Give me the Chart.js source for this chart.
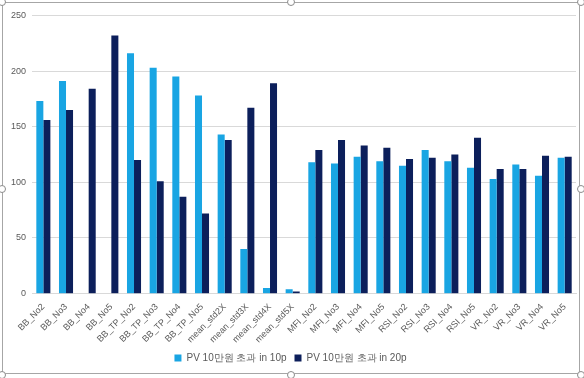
<!DOCTYPE html>
<html>
<head>
<meta charset="utf-8">
<script src="https://cdn.jsdelivr.net/npm/chart.js@4"></script>
<style>
  html, body { margin: 0; padding: 0; background: #fff; }
  #wrap { position: relative; width: 584px; height: 378px; overflow: hidden; }
  #frame { position: absolute; left: 2px; top: 2px; width: 578px; height: 372px; border: 1px solid #a6a6a6; box-sizing: border-box; }
  .h { position: absolute; width: 8px; height: 8px; border: 1px solid #8c8c8c; border-radius: 50%; background: #fff; box-sizing: border-box; }
  #box { position: absolute; left: 4px; top: 4px; width: 574px; height: 372px; }
</style>
</head>
<body>
<div id="wrap">
  <div id="frame"></div>
  <div class="h" style="left:-2px;top:-2px"></div>
  <div class="h" style="left:287px;top:-2px"></div>
  <div class="h" style="left:577px;top:-2px"></div>
  <div class="h" style="left:-2px;top:185px"></div>
  <div class="h" style="left:577px;top:185px"></div>
  <div class="h" style="left:-2px;top:371px"></div>
  <div class="h" style="left:287px;top:371px"></div>
  <div class="h" style="left:577px;top:371px"></div>
  <div id="box"><canvas id="chart"></canvas></div>
</div>
<script>
const categories = ['BB_No2', 'BB_No3', 'BB_No4', 'BB_No5', 'BB_TP_No2', 'BB_TP_No3', 'BB_TP_No4', 'BB_TP_No5',
  'mean_std2X', 'mean_std3X', 'mean_std4X', 'mean_std5X', 'MFI_No2', 'MFI_No3', 'MFI_No4', 'MFI_No5',
  'RSI_No2', 'RSI_No3', 'RSI_No4', 'RSI_No5', 'VR_No2', 'VR_No3', 'VR_No4', 'VR_No5'];
const pv10 = [173, 191, 0, 0, 216, 203, 195, 178, 143, 40, 5, 4, 118, 117, 123, 119, 115, 129, 119, 113, 103, 116, 106, 122];
const pv20 = [156, 165, 184, 232, 120, 101, 87, 72, 138, 167, 189, 2, 129, 138, 133, 131, 121, 122, 125, 140, 112, 112, 124, 123];
const yTicks = [0, 50, 100, 150, 200, 250];

new Chart(document.getElementById('chart'), {
  type: 'bar',
  data: {
    labels: categories,
    datasets: [{
      label: 'PV 10만원 초과 in 10p',
      data: pv10,
      backgroundColor: '#19A5E3',
      categoryPercentage: 0.62,
      barPercentage: 1.0,
    }, {
      label: 'PV 10만원 초과 in 20p',
      data: pv20,
      backgroundColor: '#0C1F5B',
      categoryPercentage: 0.62,
      barPercentage: 1.0,
    }]
  },
  options: {
    animation: false,
    responsive: true,
    maintainAspectRatio: false,
    layout: { padding: { left: 1, right: 2, top: 4, bottom: 3 } },
    plugins: {
      legend: {
        position: 'bottom',
        labels: {
          boxWidth: 7,
          boxHeight: 7,
          padding: 8,
          color: '#595959',
          font: { family: 'Liberation Sans', size: 10 }
        }
      },
      tooltip: { enabled: false }
    },
    scales: {
      x: {
        border: { display: true, color: '#d9d9d9' },
        grid: { display: false },
        ticks: {
          maxRotation: 45,
          minRotation: 45,
          autoSkip: false,
          padding: 0,
          color: '#595959',
          font: { family: 'Liberation Sans', size: 9 }
        }
      },
      y: {
        min: 0,
        max: 250,
        border: { display: false },
        grid: { color: '#d9d9d9', drawTicks: false },
        afterBuildTicks: (axis) => { axis.ticks = yTicks.map(v => ({ value: v })); },
        ticks: {
          padding: 6,
          color: '#595959',
          font: { family: 'Liberation Sans', size: 9 }
        }
      }
    }
  }
});
</script>
</body>
</html>
